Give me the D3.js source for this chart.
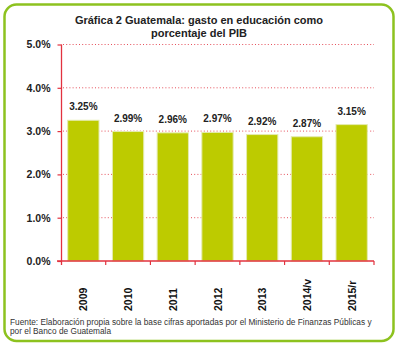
<!DOCTYPE html>
<html>
<head>
<meta charset="utf-8">
<script src="https://cdn.jsdelivr.net/npm/d3@7/dist/d3.min.js"></script>
<style>
  html, body { margin: 0; padding: 0; background: #fff; }
  svg { display: block; }
  text { font-family: "Liberation Sans", "DejaVu Sans", sans-serif; }
</style>
</head>
<body>
<svg id="chart" width="400" height="345"></svg>
<script>
// Education spending in Guatemala as a share of GDP
const years = ["2009", "2010", "2011", "2012", "2013", "2014/v", "2015/r"];
const values = [3.25, 2.99, 2.96, 2.97, 2.92, 2.87, 3.15];
const yTicks = [0, 1, 2, 3, 4, 5];
const titleLines = ["Gráfica 2 Guatemala: gasto en educación como", "porcentaje del PIB"];
const sourceLines = [
  "Fuente: Elaboración propia sobre la base cifras aportadas por el Ministerio de Finanzas Públicas y",
  "por el Banco de Guatemala"
];

const svg = d3.select("#chart");
const red = "#e2323f";
const barColor = "#bdcb00";

// Rounded frame
svg.append("rect")
  .attr("x", 4.5).attr("y", 4.5)
  .attr("width", 389).attr("height", 336.5)
  .attr("rx", 12).attr("ry", 12)
  .attr("fill", "#fff")
  .attr("stroke", "#8dc21f")
  .attr("stroke-width", 2.5);

// Title
svg.append("g").selectAll("text").data(titleLines).join("text")
  .attr("x", 199)
  .attr("y", (d, i) => 24 + i * 13)
  .attr("text-anchor", "middle")
  .attr("font-size", 11)
  .attr("font-weight", "bold")
  .attr("fill", "#222")
  .text(d => d);

const x = d3.scaleBand().domain(years).range([61, 374]).paddingInner(0.3).paddingOuter(0.15);
const y = d3.scaleLinear().domain([0, 5]).range([261, 44.5]);

// Dotted gridlines
svg.append("g").selectAll("line").data(yTicks.filter(t => t > 0)).join("line")
  .attr("x1", 63).attr("x2", 374)
  .attr("y1", d => y(d)).attr("y2", d => y(d))
  .attr("stroke", red)
  .attr("stroke-width", 1)
  .attr("stroke-dasharray", "1,2.2")
  .attr("opacity", 0.85);

// Bars
svg.append("g").selectAll("rect").data(values).join("rect")
  .attr("x", (d, i) => x(years[i]))
  .attr("y", d => y(d))
  .attr("width", x.bandwidth())
  .attr("height", d => y(0) - y(d))
  .attr("fill", barColor)
  .attr("stroke", "#e4ebb0")
  .attr("stroke-width", 1);

// Value labels
svg.append("g").selectAll("text").data(values).join("text")
  .attr("x", (d, i) => x(years[i]) + x.bandwidth() / 2)
  .attr("y", d => y(d) - 10)
  .attr("text-anchor", "middle")
  .attr("font-size", 10)
  .attr("font-weight", "bold")
  .attr("fill", "#222")
  .text(d => d.toFixed(2) + "%");

// Y axis
const yAxis = d3.axisLeft(y).tickValues(yTicks).tickSize(4).tickFormat(d => d.toFixed(1) + "%");
const gy = svg.append("g").attr("transform", "translate(61.5,0)").call(yAxis);
gy.select(".domain").attr("stroke", red).attr("stroke-width", 1.3).attr("d", "M0,44.5V265");
gy.selectAll(".tick line").attr("stroke", red).attr("stroke-width", 1.2);
gy.selectAll(".tick text")
  .attr("x", -11)
  .attr("font-size", 10.5)
  .attr("font-weight", "bold")
  .attr("fill", "#222")
  .style("font-family", "'Liberation Sans', sans-serif");

// X axis with boundary ticks between categories
const gx = svg.append("g");
gx.append("line")
  .attr("x1", 57).attr("x2", 374)
  .attr("y1", y(0)).attr("y2", y(0))
  .attr("stroke", red).attr("stroke-width", 1.3);
const bounds = d3.range(years.length + 1).map(i => 61 + i * x.step());
gx.selectAll("line.b").data(bounds.slice(1)).join("line")
  .attr("class", "b")
  .attr("x1", d => d).attr("x2", d => d)
  .attr("y1", y(0)).attr("y2", y(0) + 4)
  .attr("stroke", red).attr("stroke-width", 1.2);

// Rotated category labels
gx.selectAll("text").data(years).join("text")
  .attr("transform", d => `translate(${x(d) + x.bandwidth() / 2 + 4},311) rotate(-90)`)
  .attr("text-anchor", "start")
  .attr("font-size", 10.5)
  .attr("font-weight", "bold")
  .attr("fill", "#111")
  .text(d => d);

// Source note
svg.append("g").selectAll("text").data(sourceLines).join("text")
  .attr("x", 10)
  .attr("y", (d, i) => 324.5 + i * 9.5)
  .attr("font-size", 8.3)
  .attr("fill", "#333")
  .text(d => d);
</script>
</body>
</html>
